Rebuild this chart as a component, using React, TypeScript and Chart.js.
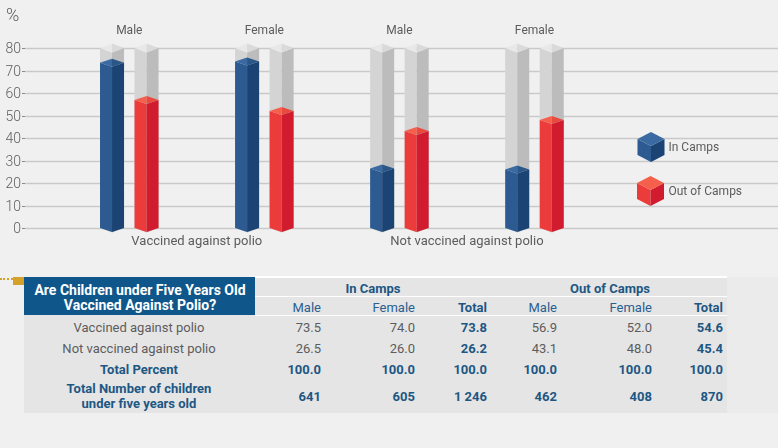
import React, { useEffect, useRef } from 'react';
import { Chart, registerables } from 'chart.js';

Chart.register(...registerables);

// ---------- data ----------
const categories = ['Male', 'Female', 'Male', 'Female'];
const groupLabels = ['Vaccined against polio', 'Not vaccined against polio'];
const seriesNames = ['In Camps', 'Out of Camps'];
const inCamps = [73.5, 74.0, 26.5, 26.0];
const outOfCamps = [56.9, 52.0, 43.1, 48.0];
const yMax = 80;
const yStep = 10;
const yUnit = '%';

const tableTitle = ['Are Children under Five Years Old', 'Vaccined Against Polio?'];
const tableGroups = ['In Camps', 'Out of Camps'];
const tableCols = ['Male', 'Female', 'Total', 'Male', 'Female', 'Total'];
const rowLabels = ['Vaccined against polio', 'Not vaccined against polio', 'Total Percent', 'Total Number of children under five years old'];
const rowVaccinated = ['73.5', '74.0', '73.8', '56.9', '52.0', '54.6'];
const rowNotVaccinated = ['26.5', '26.0', '26.2', '43.1', '48.0', '45.4'];
const rowTotalPercent = ['100.0', '100.0', '100.0', '100.0', '100.0', '100.0'];
const rowTotalNumber = ['641', '605', '1 246', '462', '408', '870'];

// ---------- styles ----------
const FONT = 'Roboto, "Noto Sans", sans-serif';
const faces = [
  { left: '#2d5b91', right: '#1b4475', topL: '#3b69a1', topR: '#2a5688' },
  { left: '#ec3b3b', right: '#d11b2e', topL: '#f4604c', topR: '#e84a3f' },
];
const grayFace = { left: '#d4d4d4', right: '#bcbcbc', topL: '#e8e8e8', topR: '#dadada' };
const BLUE_TXT = '#1d5783';
const GRAY_TXT = '#5c5c5c';

function prism(ctx: CanvasRenderingContext2D, xl: number, xr: number, yTop: number, yBot: number, d: number, c: any) {
  const xc = (xl + xr) / 2;
  ctx.fillStyle = c.left;
  ctx.beginPath();
  ctx.moveTo(xl, yTop); ctx.lineTo(xc, yTop + d); ctx.lineTo(xc, yBot + d); ctx.lineTo(xl, yBot);
  ctx.closePath(); ctx.fill();
  ctx.fillStyle = c.right;
  ctx.beginPath();
  ctx.moveTo(xc, yTop + d); ctx.lineTo(xr, yTop); ctx.lineTo(xr, yBot); ctx.lineTo(xc, yBot + d);
  ctx.closePath(); ctx.fill();
  ctx.fillStyle = c.topL;
  ctx.beginPath();
  ctx.moveTo(xl, yTop); ctx.lineTo(xc, yTop - d); ctx.lineTo(xc, yTop + d);
  ctx.closePath(); ctx.fill();
  ctx.fillStyle = c.topR;
  ctx.beginPath();
  ctx.moveTo(xc, yTop - d); ctx.lineTo(xr, yTop); ctx.lineTo(xc, yTop + d);
  ctx.closePath(); ctx.fill();
}

function cube(ctx: CanvasRenderingContext2D, cx: number, cy: number, c: any) {
  const w = 13.5, h = 15, s = 7;
  ctx.fillStyle = c.left;
  ctx.beginPath();
  ctx.moveTo(cx - w, cy - h + s); ctx.lineTo(cx, cy - h + 2 * s); ctx.lineTo(cx, cy + h); ctx.lineTo(cx - w, cy + h - s);
  ctx.closePath(); ctx.fill();
  ctx.fillStyle = c.right;
  ctx.beginPath();
  ctx.moveTo(cx, cy - h + 2 * s); ctx.lineTo(cx + w, cy - h + s); ctx.lineTo(cx + w, cy + h - s); ctx.lineTo(cx, cy + h);
  ctx.closePath(); ctx.fill();
  ctx.fillStyle = c.topL;
  ctx.beginPath();
  ctx.moveTo(cx, cy - h); ctx.lineTo(cx + w, cy - h + s); ctx.lineTo(cx, cy - h + 2 * s); ctx.lineTo(cx - w, cy - h + s);
  ctx.closePath(); ctx.fill();
}

const decorPlugin = {
  id: 'decor3d',
  beforeDatasetsDraw(chart: any) {
    const ctx = chart.ctx as CanvasRenderingContext2D;
    const y = chart.scales.y;
    const x = chart.scales.x;
    ctx.save();
    const ticks = y.ticks && y.ticks.length ? y.ticks.map((t: any) => t.value) : [0, 10, 20, 30, 40, 50, 60, 70, 80];
    ctx.font = `300 14px ${FONT}`;
    ctx.textAlign = 'right';
    ctx.textBaseline = 'middle';
    ticks.forEach((v: number) => {
      const py = Math.round(y.getPixelForValue(v)) + 0.5;
      ctx.strokeStyle = '#c9c9c9';
      ctx.lineWidth = 1.3;
      ctx.beginPath(); ctx.moveTo(25, py); ctx.lineTo(chart.width, py); ctx.stroke();
      ctx.strokeStyle = '#8a8a8a';
      ctx.lineWidth = 1;
      ctx.beginPath(); ctx.moveTo(22, py); ctx.lineTo(25, py); ctx.stroke();
      ctx.fillStyle = '#606060';
      ctx.fillText(String(v), 21, py + 1);
    });
    ctx.font = `300 18px ${FONT}`;
    ctx.textAlign = 'left';
    ctx.fillText(yUnit, 6, 16);
    ctx.font = `12px ${FONT}`;
    ctx.textAlign = 'center';
    ctx.fillStyle = GRAY_TXT;
    categories.forEach((c, i) => ctx.fillText(c, x.getPixelForValue(i), 31));
    ctx.font = `13px ${FONT}`;
    groupLabels.forEach((g, gi) => {
      const cx = (x.getPixelForValue(gi * 2) + x.getPixelForValue(gi * 2 + 1)) / 2;
      ctx.fillText(g, cx, 242);
    });
    ctx.restore();
  },
  beforeDatasetDraw() {
    return false;
  },
  afterDatasetsDraw(chart: any) {
    const ctx = chart.ctx as CanvasRenderingContext2D;
    const y = chart.scales.y;
    const top = y.getPixelForValue(yMax);
    ctx.save();
    const metas = chart.data.datasets.map((_: any, i: number) => chart.getDatasetMeta(i));
    metas.forEach((meta: any) => {
      meta.data.forEach((bar: any) => {
        const p = bar.getProps(['x', 'y', 'base', 'width'], true);
        prism(ctx, p.x - p.width / 2, p.x + p.width / 2, top, p.base, 4.5, grayFace);
      });
    });
    metas.forEach((meta: any, di: number) => {
      meta.data.forEach((bar: any) => {
        const p = bar.getProps(['x', 'y', 'base', 'width'], true);
        prism(ctx, p.x - p.width / 2, p.x + p.width / 2, p.y, p.base, 4, faces[di]);
      });
    });
    ctx.font = `12px ${FONT}`;
    ctx.textAlign = 'left';
    ctx.textBaseline = 'middle';
    chart.data.datasets.forEach((ds: any, i: number) => {
      const cy = 147 + i * 44;
      cube(ctx, 651 - i * 0.5, cy, faces[i]);
      ctx.fillStyle = GRAY_TXT;
      ctx.fillText(ds.label, 668.5, cy + 1);
    });
    ctx.restore();
  },
};

function ChartCanvas() {
  const ref = useRef<HTMLCanvasElement>(null);
  useEffect(() => {
    if (!ref.current) return;
    const chart = new Chart(ref.current, {
      type: 'bar',
      data: {
        labels: categories,
        datasets: [
          { label: seriesNames[0], data: inCamps, backgroundColor: faces[0].left },
          { label: seriesNames[1], data: outOfCamps, backgroundColor: faces[1].left },
        ],
      },
      options: {
        animation: false,
        responsive: false,
        maintainAspectRatio: false,
        layout: { padding: { left: 61.75, right: 176, top: 48, bottom: 37 } },
        datasets: { bar: { categoryPercentage: 0.511, barPercentage: 0.696 } },
        plugins: { legend: { display: false }, tooltip: { enabled: false } },
        scales: {
          x: { display: false },
          y: { display: false, min: 0, max: yMax, ticks: { stepSize: yStep } },
        },
      } as any,
      plugins: [decorPlugin as any],
    });
    return () => chart.destroy();
  }, []);
  return <canvas ref={ref} width={778} height={265} style={{ position: 'absolute', left: 0, top: 0, display: 'block' }} />;
}

type Align = 'left' | 'right' | 'center';
function Txt(props: { x: number; y: number; align: Align; children: any; style?: any }) {
  const { x, y, align, children, style } = props;
  const base: any = { position: 'absolute', top: y, whiteSpace: 'nowrap', fontFamily: FONT, fontSize: 13, lineHeight: '15px' };
  if (align === 'right') {
    base.right = 778 - x; base.transform = 'translateY(-50%)'; base.textAlign = 'right';
  } else if (align === 'center') {
    base.left = x; base.transform = 'translate(-50%, -50%)'; base.textAlign = 'center';
  } else {
    base.left = x; base.transform = 'translateY(-50%)';
  }
  return <div style={{ ...base, ...style }}>{children}</div>;
}

const colRight = [321, 415, 487, 557, 652, 723];
const rowY = [327, 348, 369, 396];

function Table() {
  const bold = { fontWeight: 700, color: BLUE_TXT };
  const norm = { fontWeight: 400, color: GRAY_TXT };
  const rows = [rowVaccinated, rowNotVaccinated, rowTotalPercent, rowTotalNumber];
  return (
    <>
      <div style={{ position: 'absolute', left: 0, top: 278, width: 13, height: 0, borderTop: '2px dotted #d4a22a' }} />
      <div style={{ position: 'absolute', left: 13, top: 277, width: 11, height: 8, background: '#d4a22a' }} />
      <div style={{ position: 'absolute', left: 24, top: 277, width: 703, height: 136, background: '#e5e5e6' }} />
      <div style={{ position: 'absolute', left: 727, top: 277, width: 51, height: 136, background: '#ebebeb' }} />
      <div style={{ position: 'absolute', left: 255, top: 276, width: 472, height: 1.5, background: '#ffffff' }} />
      <div style={{ position: 'absolute', left: 255, top: 295.5, width: 472, height: 1.5, background: '#ffffff' }} />
      <div style={{ position: 'absolute', left: 255, top: 314.5, width: 472, height: 1.5, background: '#ffffff' }} />
      <div style={{ position: 'absolute', left: 24, top: 277, width: 231, height: 38, background: '#0f578a' }} />
      {tableTitle.map((t, i) => (
        <Txt key={'tt' + i} x={140} y={290 + i * 15} align="center" style={{ color: '#ffffff', fontWeight: 700, fontSize: 14 }}>{t}</Txt>
      ))}
      <Txt x={373} y={288} align="center" style={bold}>{tableGroups[0]}</Txt>
      <Txt x={610} y={288} align="center" style={bold}>{tableGroups[1]}</Txt>
      {tableCols.map((c, i) => (
        <Txt key={'c' + i} x={colRight[i]} y={307} align="right" style={c === 'Total' ? bold : { fontWeight: 400, color: '#2a6090' }}>{c}</Txt>
      ))}
      {rowLabels.map((l, r) => (
        <Txt key={'rl' + r} x={139} y={rowY[r]} align="center" style={r >= 2 ? { ...bold, whiteSpace: r === 3 ? 'normal' : 'nowrap', width: 170 } : norm}>
          {r === 3 ? (<>Total Number of children<br />under five years old</>) : l}
        </Txt>
      ))}
      {rows.map((row, r) =>
        row.map((v, c) => (
          <Txt key={'v' + r + '_' + c} x={colRight[c]} y={rowY[r]} align="right" style={r >= 2 || c === 2 || c === 5 ? bold : norm}>{v}</Txt>
        ))
      )}
    </>
  );
}

export default function App() {
  return (
    <div style={{ position: 'absolute', left: 0, top: 0, width: 778, height: 448, background: '#f0f0f0', overflow: 'hidden' }}>
      <ChartCanvas />
      <Table />
    </div>
  );
}
